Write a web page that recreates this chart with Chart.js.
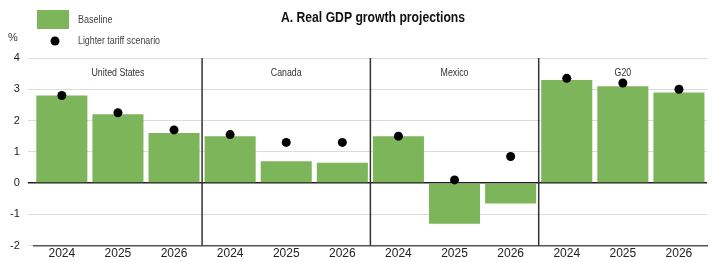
<!DOCTYPE html>
<html>
<head>
<meta charset="utf-8">
<script src="https://cdn.jsdelivr.net/npm/chart.js@4.4.1/dist/chart.umd.min.js"></script>
<style>
  html, body { margin: 0; padding: 0; background: #fff; }
  #wrap { width: 712px; height: 262px; }
</style>
</head>
<body>
<div id="wrap"><canvas id="gdpChart"></canvas></div>
<script>
  // data
  var groups = ["United States", "Canada", "Mexico", "G20"];
  var years = ["2024", "2025", "2026"];
  var baseline = [2.8, 2.2, 1.6, 1.5, 0.7, 0.65, 1.5, -1.3, -0.65, 3.3, 3.1, 2.9];
  var lighterTariff = [2.8, 2.25, 1.7, 1.55, 1.3, 1.3, 1.5, 0.1, 0.85, 3.35, 3.2, 3.0];
  var yTicks = [-2, -1, 0, 1, 2, 3, 4];

  var labels = [];
  groups.forEach(function (g) {
    years.forEach(function (y) { labels.push(y); });
  });

  var green = "#7db55a";
  var sans = "'Liberation Sans', Arial, sans-serif";

  // draw text squeezed horizontally (the original uses a narrow face)
  function narrowText(ctx, txt, x, y, squeeze) {
    ctx.save();
    ctx.translate(x, y);
    ctx.scale(squeeze, 1);
    ctx.fillText(txt, 0, 0);
    ctx.restore();
  }

  // dividers, group names, legend and title
  var decorPlugin = {
    id: "decor",
    afterDatasetsDraw: function (chart) {
      var ctx = chart.ctx;
      var area = chart.chartArea;
      var x = chart.scales.x;
      var per = years.length;
      ctx.save();
      ctx.strokeStyle = "#333";
      ctx.lineWidth = 1.5;
      for (var i = 1; i < groups.length; i++) {
        var xl = (x.getPixelForValue(i * per - 1) + x.getPixelForValue(i * per)) / 2;
        ctx.beginPath();
        ctx.moveTo(xl, area.top);
        ctx.lineTo(xl, area.bottom);
        ctx.stroke();
      }
      ctx.fillStyle = "#333";
      ctx.font = "10px " + sans;
      ctx.textAlign = "center";
      ctx.textBaseline = "middle";
      groups.forEach(function (g, i) {
        var cx = x.getPixelForValue(i * per + 1);
        narrowText(ctx, g, cx, area.top + 15, 0.88);
      });
      ctx.restore();
    },
    afterDraw: function (chart) {
      var ctx = chart.ctx;
      ctx.save();
      ctx.fillStyle = "#111";
      ctx.font = "bold 14px " + sans;
      ctx.textAlign = "center";
      ctx.textBaseline = "middle";
      narrowText(ctx, "A. Real GDP growth projections", 373, 18, 0.87);
      // legend
      ctx.fillStyle = green;
      ctx.fillRect(37, 10, 32, 19);
      ctx.fillStyle = "#000";
      ctx.beginPath();
      ctx.arc(55, 41, 4.5, 0, Math.PI * 2);
      ctx.fill();
      ctx.fillStyle = "#444";
      ctx.font = "10px " + sans;
      ctx.textAlign = "left";
      narrowText(ctx, "Baseline", 78, 20, 0.9);
      narrowText(ctx, "Lighter tariff scenario", 78, 41, 0.88);
      ctx.fillStyle = "#333";
      ctx.font = "11px " + sans;
      ctx.fillText("%", 8, 38);
      ctx.restore();
    }
  };

  new Chart(document.getElementById("gdpChart"), {
    type: "bar",
    data: {
      labels: labels,
      datasets: [
        {
          type: "line",
          label: "Lighter tariff scenario",
          data: lighterTariff,
          showLine: false,
          pointRadius: 4.5,
          pointBackgroundColor: "#000",
          pointBorderWidth: 0,
          order: 0
        },
        {
          label: "Baseline",
          data: baseline,
          backgroundColor: green,
          barPercentage: 0.91,
          categoryPercentage: 1.0,
          order: 1
        }
      ]
    },
    options: {
      responsive: true,
      maintainAspectRatio: false,
      animation: false,
      layout: { padding: { top: 58, right: 5, left: 2, bottom: 0 } },
      plugins: {
        legend: { display: false },
        title: { display: false },
        tooltip: { enabled: false }
      },
      scales: {
        x: {
          grid: { display: false, drawTicks: false },
          border: { display: true, color: "#555", width: 1.5 },
          ticks: {
            color: "#222",
            font: { size: 12, family: sans },
            padding: 1,
            maxRotation: 0
          }
        },
        y: {
          min: -2,
          max: 4,
          afterBuildTicks: function (axis) {
            axis.ticks = yTicks.map(function (v) { return { value: v }; });
          },
          border: { display: false },
          grid: {
            tickLength: 6,
            color: function (c) {
              return c.tick && c.tick.value === 0 ? "#222" : "#dcdcdc";
            },
            lineWidth: function (c) {
              return c.tick && c.tick.value === 0 ? 1.5 : 1;
            }
          },
          ticks: {
            color: "#222",
            font: { size: 11, family: sans },
            padding: 8
          }
        }
      }
    },
    plugins: [decorPlugin]
  });
</script>
</body>
</html>
